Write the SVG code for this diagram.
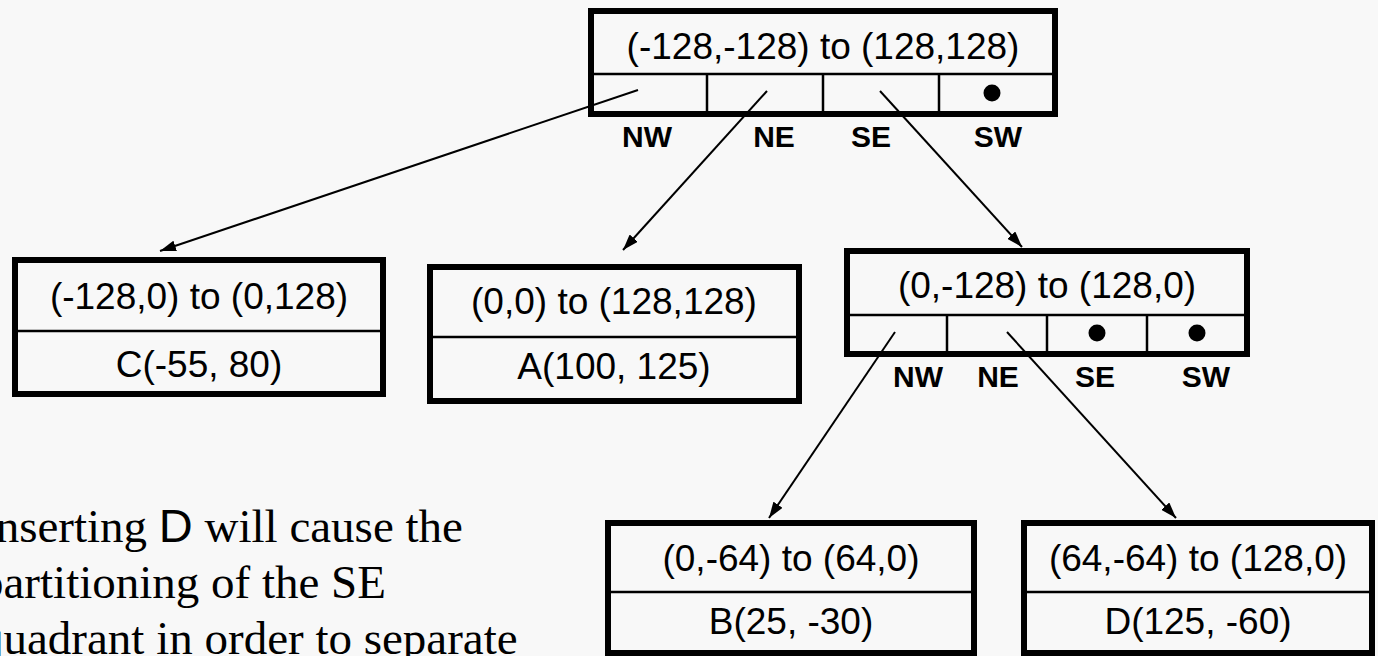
<svg xmlns="http://www.w3.org/2000/svg" width="1378" height="656" viewBox="0 0 1378 656">
  <style>
    .box { fill: none; stroke: #000; stroke-width: 6; }
    .div { stroke: #000; stroke-width: 2.5; fill: none; }
    .lbl { font-family: "Liberation Sans", Arial, sans-serif; font-size: 37px; fill: #000; text-anchor: middle; }
    .dir { font-family: "Liberation Sans", Arial, sans-serif; font-size: 30px; font-weight: bold; fill: #000; text-anchor: middle; }
    .note { font-family: "Liberation Serif", "Times New Roman", serif; font-size: 47px; fill: #000; }
    .edge { stroke: #000; stroke-width: 2; fill: none; marker-end: url(#arrow); }
    .dot { fill: #000; }
  </style>
  <defs>
    <marker id="arrow" viewBox="0 0 16 11" refX="16" refY="5.5" markerWidth="16" markerHeight="11" markerUnits="userSpaceOnUse" orient="auto">
      <path d="M0,0 L16,5.5 L0,11 z" fill="#000"/>
    </marker>
  </defs>

  <rect x="0" y="0" width="1378" height="656" fill="#f8f8f8"/>

  <!-- root quadrant -->
  <g id="root">
    <rect class="box" x="591" y="11" width="464" height="103"/>
    <line class="div" x1="591" y1="74" x2="1055" y2="74"/>
    <line class="div" x1="707" y1="74" x2="707" y2="114"/>
    <line class="div" x1="823" y1="74" x2="823" y2="114"/>
    <line class="div" x1="939" y1="74" x2="939" y2="114"/>
    <text class="lbl" x="823" y="59">(-128,-128) to (128,128)</text>
    <circle class="dot" cx="992" cy="93" r="8.5"/>
    <text class="dir" x="647" y="147">NW</text>
    <text class="dir" x="774" y="147">NE</text>
    <text class="dir" x="871" y="147">SE</text>
    <text class="dir" x="998" y="147">SW</text>
  </g>

  <!-- NW child: leaf C -->
  <g id="nodeC">
    <rect class="box" x="15" y="260" width="368" height="134"/>
    <line class="div" x1="15" y1="331" x2="383" y2="331"/>
    <text class="lbl" x="199" y="309">(-128,0) to (0,128)</text>
    <text class="lbl" x="199" y="377">C(-55, 80)</text>
  </g>

  <!-- NE child: leaf A -->
  <g id="nodeA">
    <rect class="box" x="430" y="267" width="369" height="134"/>
    <line class="div" x1="430" y1="337" x2="799" y2="337"/>
    <text class="lbl" x="614" y="314">(0,0) to (128,128)</text>
    <text class="lbl" x="614" y="379">A(100, 125)</text>
  </g>

  <!-- SE child: subdivided quadrant -->
  <g id="nodeSE">
    <rect class="box" x="847" y="251" width="400" height="103"/>
    <line class="div" x1="847" y1="315" x2="1247" y2="315"/>
    <line class="div" x1="947" y1="315" x2="947" y2="354"/>
    <line class="div" x1="1047" y1="315" x2="1047" y2="354"/>
    <line class="div" x1="1147" y1="315" x2="1147" y2="354"/>
    <text class="lbl" x="1047" y="298">(0,-128) to (128,0)</text>
    <circle class="dot" cx="1097" cy="333" r="8.5"/>
    <circle class="dot" cx="1197" cy="333" r="8.5"/>
    <text class="dir" x="918" y="387">NW</text>
    <text class="dir" x="998" y="387">NE</text>
    <text class="dir" x="1095" y="387">SE</text>
    <text class="dir" x="1206" y="387">SW</text>
  </g>

  <!-- leaf B -->
  <g id="nodeB">
    <rect class="box" x="608" y="523" width="366" height="130"/>
    <line class="div" x1="608" y1="592" x2="974" y2="592"/>
    <text class="lbl" x="791" y="571">(0,-64) to (64,0)</text>
    <text class="lbl" x="791" y="634">B(25, -30)</text>
  </g>

  <!-- leaf D -->
  <g id="nodeD">
    <rect class="box" x="1024" y="523" width="348" height="130"/>
    <line class="div" x1="1024" y1="592" x2="1372" y2="592"/>
    <text class="lbl" x="1198" y="571">(64,-64) to (128,0)</text>
    <text class="lbl" x="1198" y="634">D(125, -60)</text>
  </g>

  <!-- parent-to-child pointers -->
  <g id="connectors">
    <line class="edge" x1="638" y1="90" x2="160" y2="251"/>
    <line class="edge" x1="767" y1="91" x2="623" y2="250"/>
    <line class="edge" x1="880" y1="91" x2="1022" y2="247"/>
    <line class="edge" x1="895" y1="332" x2="769" y2="518"/>
    <line class="edge" x1="1007" y1="332" x2="1176" y2="518"/>
  </g>

  <!-- explanatory note, running off the left and bottom edges -->
  <g id="note">
    <text class="note" x="-20" y="542">Inserting <tspan font-family="Liberation Sans, Arial, sans-serif">D</tspan> will cause the</text>
    <text class="note" x="-20" y="598">partitioning of the SE</text>
    <text class="note" x="-20" y="654">quadrant in order to separate</text>
  </g>
</svg>
